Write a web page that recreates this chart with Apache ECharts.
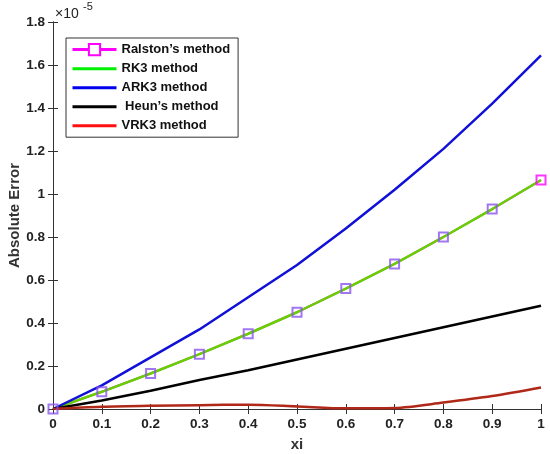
<!DOCTYPE html>
<html>
<head>
<meta charset="utf-8">
<script src="https://cdn.jsdelivr.net/npm/echarts@6/dist/echarts.min.js"></script>
<style>
  html, body { margin: 0; padding: 0; background: #fff; }
  #Chart { width: 550px; height: 454px; }
</style>
</head>
<body>
<div id="Chart"></div>
<script>
// x steps and errors (in units of 1e-5)
var xi = [0, 0.1, 0.2, 0.3, 0.4, 0.5, 0.6, 0.7, 0.8, 0.9, 1.0];
var ralston = [0, 0.08, 0.165, 0.255, 0.35, 0.45, 0.56, 0.675, 0.80, 0.93, 1.065];
var rk3 = [0, 0.08, 0.165, 0.255, 0.35, 0.45, 0.56, 0.675, 0.80, 0.93, 1.065];
var ark3 = [0, 0.11, 0.24, 0.37, 0.52, 0.67, 0.84, 1.02, 1.21, 1.42, 1.645];
var heun = [0, 0.04, 0.085, 0.135, 0.18, 0.23, 0.28, 0.33, 0.38, 0.43, 0.48];
var vrk3 = [0, 0.01, 0.015, 0.018, 0.02, 0.012, 0.003, 0.005, 0.03, 0.06, 0.10];
var names = ["Ralston’s method", "RK3 method", "ARK3 method", " Heun’s method", "VRK3 method"];

function pairs(ys) {
    return xi.map(function (x, i) { return [x, ys[i]]; });
}

var myChart = echarts.init(document.getElementById('Chart'));
var font = 'Arial, "Liberation Sans", sans-serif';
var noDot = { opacity: 0 };

var option = {
    animation: false,
    grid: { left: 53, right: 9, top: 22, bottom: 45, outerBoundsMode: 'none', containLabel: false },
    legend: {
        left: 66, top: 38, orient: 'vertical',
        backgroundColor: '#fff', borderColor: '#333', borderWidth: 1,
        padding: [5, 8, 5, 5], itemGap: 6, itemWidth: 44, itemHeight: 14,
        textStyle: { fontFamily: font, fontWeight: 'bold', fontSize: 13, color: '#111' },
        data: [
            { name: names[0], lineStyle: { width: 3 } },
            { name: names[1], itemStyle: noDot, lineStyle: { color: '#00f000', width: 3 } },
            { name: names[2], itemStyle: noDot, lineStyle: { color: '#0000ee', width: 3 } },
            { name: names[3], itemStyle: noDot, lineStyle: { color: '#000', width: 3 } },
            { name: names[4], itemStyle: noDot, lineStyle: { color: '#ff1010', width: 3 } }
        ]
    },
    xAxis: [{
        type: 'value', min: 0, max: 1, interval: 0.1,
        name: 'xi', nameLocation: 'middle', nameGap: 28, nameMoveOverlap: false,
        nameTextStyle: { fontFamily: font, fontWeight: 'bold', fontSize: 15, color: '#333' },
        axisLine: { lineStyle: { color: '#333' } },
        axisTick: { inside: true, length: 5, lineStyle: { color: '#333' } },
        axisLabel: { fontFamily: font, fontWeight: 'bold', fontSize: 13.5, color: '#222', margin: 8,
            formatter: function (v) { return String(+v.toFixed(1)); } },
        splitLine: { show: false }
    }, {
        type: 'value', min: 0, max: 1, interval: 0.1, position: 'top',
        axisLine: { lineStyle: { color: '#333' } },
        axisTick: { inside: true, length: 5, lineStyle: { color: '#333' } },
        axisLabel: { show: false }, splitLine: { show: false }
    }],
    yAxis: [{
        type: 'value', min: 0, max: 1.8, interval: 0.2,
        name: 'Absolute Error', nameLocation: 'middle', nameGap: 31, nameMoveOverlap: false,
        nameTextStyle: { fontFamily: font, fontWeight: 'bold', fontSize: 15, color: '#333' },
        axisLine: { show: true, lineStyle: { color: '#333' } },
        axisTick: { show: true, inside: true, length: 5, lineStyle: { color: '#333' } },
        axisLabel: { fontFamily: font, fontWeight: 'bold', fontSize: 13.5, color: '#222', margin: 8,
            formatter: function (v) { return String(+v.toFixed(1)); } },
        splitLine: { show: false }
    }, {
        type: 'value', min: 0, max: 1.8, interval: 0.2, position: 'right',
        axisLine: { show: true, lineStyle: { color: '#333' } },
        axisTick: { show: true, inside: true, length: 5, lineStyle: { color: '#333' } },
        axisLabel: { show: false }, splitLine: { show: false }
    }],
    graphic: [{
        type: 'text', left: 55, top: 7,
        style: { text: '×10', font: '14px ' + font, fill: '#222' }
    }, {
        type: 'text', left: 83, top: 1,
        style: { text: '-5', font: '11px ' + font, fill: '#222' }
    }],
    series: [{
        name: names[0], type: 'line', z: 1, showSymbol: false, symbol: 'rect', symbolSize: 9,
        data: pairs(ralston),
        lineStyle: { color: '#ff00ff', width: 2 },
        itemStyle: { color: '#fff', borderColor: '#ff00ff', borderWidth: 2 }
    }, {
        name: names[1], type: 'line', z: 2, showSymbol: false, symbol: 'none',
        data: pairs(rk3),
        lineStyle: { color: '#66d000', width: 2.5 }, itemStyle: { color: '#00ee00' }
    }, {
        // Ralston markers drawn above the green line
        type: 'scatter', z: 3, symbol: 'rect', symbolSize: 9,
        data: pairs(ralston).map(function (p, i) {
            return i === xi.length - 1 ? { value: p, itemStyle: { borderColor: '#ff00ff' } } : p;
        }),
        itemStyle: { color: 'rgba(0,0,0,0)', borderColor: '#8a55ee', borderWidth: 2 }
    }, {
        name: names[2], type: 'line', showSymbol: false, symbol: 'none',
        data: pairs(ark3),
        lineStyle: { color: '#1010d8', width: 2.5 }, itemStyle: { color: '#1010d8' }
    }, {
        name: names[3], type: 'line', showSymbol: false, symbol: 'none',
        data: pairs(heun),
        lineStyle: { color: '#000', width: 2.5 }, itemStyle: { color: '#000' }
    }, {
        name: names[4], type: 'line', showSymbol: false, symbol: 'none', smooth: 0.3,
        data: pairs(vrk3),
        lineStyle: { color: '#b02818', width: 2.5 }, itemStyle: { color: '#ff0000' }
    }]
};

myChart.setOption(option);
</script>
</body>
</html>
